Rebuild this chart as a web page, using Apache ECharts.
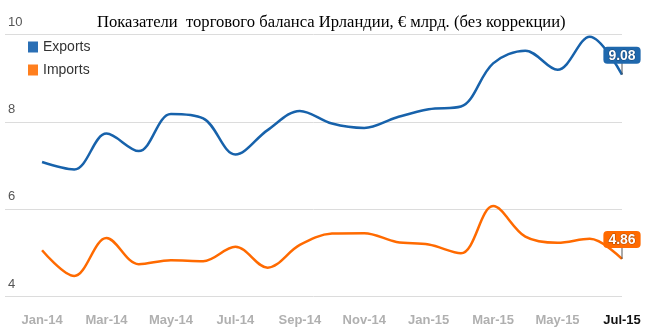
<!DOCTYPE html>
<html>
<head>
<meta charset="utf-8">
<script src="https://cdn.jsdelivr.net/npm/echarts@6/dist/echarts.min.js"></script>
<style>
  html, body { margin: 0; padding: 0; background: #fff; }
  #chart { width: 650px; height: 334px; }
</style>
</head>
<body>
<div id="chart"></div>
<script>
// Monthly trade figures, € bn
const months = ['Jan-14', 'Feb-14', 'Mar-14', 'Apr-14', 'May-14', 'Jun-14', 'Jul-14', 'Aug-14', 'Sep-14',
  'Oct-14', 'Nov-14', 'Dec-14', 'Jan-15', 'Feb-15', 'Mar-15', 'Apr-15', 'May-15', 'Jun-15', 'Jul-15'];
const exportsVals = [7.08, 6.91, 7.73, 7.33, 8.18, 8.08, 7.25, 7.81, 8.25, 7.96, 7.86, 8.10, 8.29, 8.35,
  9.34, 9.63, 9.19, 9.95, 9.08];
const importsVals = [5.06, 4.47, 5.34, 4.74, 4.83, 4.81, 5.14, 4.66, 5.18, 5.44, 5.45, 5.25, 5.19, 4.99,
  6.07, 5.37, 5.23, 5.32, 4.86];
const yTicks = [4, 6, 8, 10];
const xLabelIdx = [0, 2, 4, 6, 8, 10, 12, 14, 16, 18];

const BLUE = '#1762ab';
const ORANGE = '#ff6a00';
const SANS = 'Arial, "Liberation Sans", sans-serif';

// Last point gets a short leader tick and a value badge
function buildData(vals, labelColor) {
  const last = vals.length - 1;
  return vals.map((v, i) => {
    if (i !== last) return [i, v];
    return {
      value: [i, v],
      symbol: 'rect',
      symbolSize: [1, 12],
      symbolOffset: [0, -6],
      itemStyle: { color: '#555' },
      label: {
        show: true,
        position: 'top',
        distance: -1,
        formatter: p => p.value[1].toFixed(2),
        color: '#fff',
        fontFamily: SANS,
        fontSize: 14,
        fontWeight: 'bold',
        backgroundColor: labelColor,
        borderRadius: 4,
        padding: [2, 5, 1, 5],
        textBorderColor: 'rgba(0,0,0,0.35)',
        textBorderWidth: 1
      }
    };
  });
}

const chart = echarts.init(document.getElementById('chart'), null, { renderer: 'canvas' });
chart.setOption({
  animation: false,
  backgroundColor: '#fff',
  title: {
    text: 'Показатели  торгового баланса Ирландии, € млрд. (без коррекции)',
    left: 92,
    top: 9,
    textStyle: {
      fontFamily: '"Liberation Serif", "Times New Roman", serif',
      fontSize: 16.6,
      fontWeight: 'normal',
      color: '#000'
    }
  },
  legend: {
    orient: 'vertical',
    left: 23,
    top: 35,
    icon: 'rect',
    itemWidth: 10,
    itemHeight: 11,
    itemGap: 9,
    textStyle: { fontFamily: SANS, fontSize: 14, color: '#333' },
    data: [
      { name: 'Exports', itemStyle: { color: '#2a6fb5' } },
      { name: 'Imports', itemStyle: { color: '#ff7f1e' } }
    ]
  },
  grid: { left: 5, right: 28, top: 34.5, bottom: 37.5, containLabel: false },
  xAxis: {
    type: 'value',
    min: -1.15,
    max: 18,
    axisLine: { show: false },
    axisTick: { show: false },
    splitLine: { show: false },
    axisLabel: {
      customValues: xLabelIdx,
      margin: 17,
      fontFamily: SANS,
      fontSize: 13,
      fontWeight: 'bold',
      color: '#b0b0b0',
      formatter: v => (v === months.length - 1 ? '{last|' + months[v] + '}' : months[v]),
      rich: {
        last: { fontFamily: SANS, fontSize: 13, fontWeight: 'bold', color: '#111' }
      }
    }
  },
  yAxis: {
    type: 'value',
    min: yTicks[0],
    max: yTicks[yTicks.length - 1],
    interval: 2,
    axisLine: { show: false },
    axisTick: { show: false },
    splitLine: { lineStyle: { color: '#dcdcdc', width: 1 } },
    axisLabel: {
      inside: true,
      margin: 3,
      verticalAlign: 'bottom',
      padding: [0, 0, 6, 0],
      fontFamily: SANS,
      fontSize: 13,
      color: '#555'
    }
  },
  series: [
    {
      name: 'Exports',
      type: 'line',
      smooth: 0.35,
      symbol: 'none',
      color: BLUE,
      lineStyle: { color: BLUE, width: 2.5 },
      z: 3,
      data: buildData(exportsVals, '#1f68ad')
    },
    {
      name: 'Imports',
      type: 'line',
      smooth: 0.35,
      symbol: 'none',
      color: ORANGE,
      lineStyle: { color: ORANGE, width: 2.5 },
      z: 3,
      data: buildData(importsVals, '#ff6a00')
    }
  ]
});
</script>
</body>
</html>
